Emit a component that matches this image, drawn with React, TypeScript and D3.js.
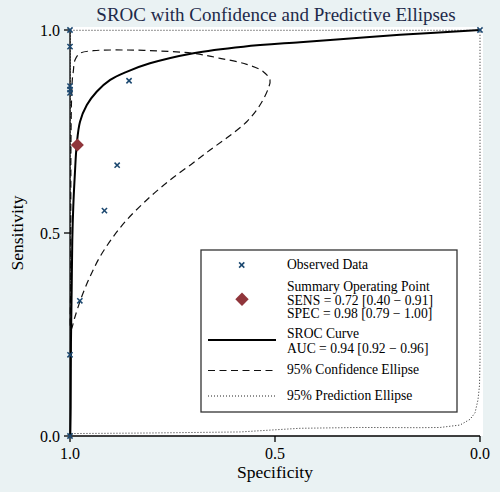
import React from "react";
import * as d3 from "d3";

// ---- data (spec, sens) ----
const obsSpec = [1.0, 1.0, 1.0, 1.0, 1.0, 0.856, 0.885, 0.916, 0.976, 1.0, 1.0, 0.0];
const obsSens = [1.0, 0.959, 0.862, 0.853, 0.845, 0.875, 0.667, 0.555, 0.333, 0.2, 0.0, 1.0];

const summarySpec = 0.982;
const summarySens = 0.717;

const srocSpec = [0.9993, 0.9983, 0.9976, 0.9959, 0.9944, 0.992, 0.988, 0.9837, 0.9756, 0.959, 0.935, 0.902, 0.862, 0.805, 0.699, 0.577, 0.439, 0.317, 0.195, 0.0];
const srocSens = [0.0, 0.072, 0.236, 0.36, 0.483, 0.565, 0.648, 0.716, 0.774, 0.815, 0.848, 0.877, 0.897, 0.918, 0.943, 0.959, 0.97, 0.979, 0.988, 1.0];

const confSpec = [0.9976, 0.998, 0.998, 0.9976, 0.9963, 0.9944, 0.992, 0.9878, 0.9756, 0.9432, 0.8617, 0.7805, 0.6993, 0.6341, 0.569, 0.5285, 0.5122, 0.5163, 0.5366, 0.569, 0.6146, 0.6585, 0.7, 0.7561, 0.8129, 0.8617, 0.8944, 0.9268, 0.9512, 0.9715, 0.9878];
const confSens = [0.2611, 0.3842, 0.5813, 0.7291, 0.8276, 0.8768, 0.8973, 0.9261, 0.9426, 0.949, 0.9507, 0.9483, 0.9426, 0.9303, 0.9155, 0.8973, 0.8768, 0.8564, 0.8153, 0.7741, 0.7365, 0.7044, 0.6724, 0.6305, 0.5813, 0.532, 0.4909, 0.4416, 0.3924, 0.3431, 0.2938];

const predSpec = [0.9988, 0.0, 0.0, 0.0, 0.0012, 0.0049, 0.0122, 0.0244, 0.0488, 0.0976, 0.146, 0.293, 0.439, 0.585, 0.805, 0.9988];
const predSens = [0.9993, 0.9993, 0.6, 0.187, 0.125, 0.089, 0.057, 0.041, 0.027, 0.021, 0.0205, 0.021, 0.019, 0.01, 0.0074, 0.006];

const xTicks = [1.0, 0.5, 0.0];
const yTicks = [0.0, 0.5, 1.0];
const titleText = "SROC with Confidence and Predictive Ellipses";
const xTitle = "Specificity";
const yTitle = "Sensitivity";
const legendObs = ["Observed Data"];
const legendSum = ["Summary Operating Point", "SENS = 0.72 [0.40 \u2212 0.91]", "SPEC = 0.98 [0.79 \u2212 1.00]"];
const legendSroc = ["SROC Curve", "AUC = 0.94 [0.92 \u2212 0.96]"];
const legendConf = ["95% Confidence Ellipse"];
const legendPred = ["95% Prediction Ellipse"];

const W = 500;
const H = 492;
const FONT = "'Liberation Serif', 'Times New Roman', serif";
const NAVY = "#1a476f";
const MAROON = "#90353b";
const BG = "#eaf2f3";

export default function App() {
  const x = d3.scaleLinear().domain([1, 0]).range([70, 480]);
  const y = d3.scaleLinear().domain([0, 1]).range([436, 30]);

  const pts = (s: number[], t: number[]) => s.map((v, i) => [v, t[i]] as [number, number]);

  const lineOpen = d3
    .line<[number, number]>()
    .x((d) => x(d[0]))
    .y((d) => y(d[1]))
    .curve(d3.curveCatmullRom.alpha(0.5));
  const lineClosed = d3
    .line<[number, number]>()
    .x((d) => x(d[0]))
    .y((d) => y(d[1]))
    .curve(d3.curveCatmullRomClosed.alpha(0.5));
  const lineLinClosed = d3
    .line<[number, number]>()
    .x((d) => x(d[0]))
    .y((d) => y(d[1]))
    .curve(d3.curveLinearClosed);

  const srocPath = lineOpen(pts(srocSpec, srocSens)) || "";
  const confPath = lineClosed(pts(confSpec, confSens)) || "";
  const predPath = lineLinClosed(pts(predSpec, predSens)) || "";

  const xm = 2.6;
  const cross = (cx: number, cy: number, key: string | number) => (
    <g key={key} stroke={NAVY} strokeWidth={1.5}>
      <line x1={cx - xm} y1={cy - xm} x2={cx + xm} y2={cy + xm} />
      <line x1={cx - xm} y1={cy + xm} x2={cx + xm} y2={cy - xm} />
    </g>
  );
  const diamond = (cx: number, cy: number, r: number) =>
    `M${cx},${cy - r}L${cx + r},${cy}L${cx},${cy + r}L${cx - r},${cy}Z`;

  const [x0, x1] = x.range();
  const [y0, y1] = y.range();

  // legend layout
  const lgX = 201, lgY = 250, lgW = 256, lgH = 162;
  const tx = 287;
  const fsL = 13.6;

  return (
    <svg width={W} height={H} style={{ display: "block", position: "absolute", left: 0, top: 0 }} fontFamily={FONT}>
      <rect x={0} y={0} width={W} height={H} fill={BG} />
      <rect x={x0} y={27} width={483 - x0} height={y0 - 27} fill="#ffffff" />

      <text x={276} y={21} textAnchor="middle" fontSize={19} fill="#1e2a4a">{titleText}</text>

      {/* prediction ellipse */}
      <path d={predPath} fill="none" stroke="#222" strokeWidth={1} strokeDasharray="1,2" />
      {/* confidence ellipse */}
      <path d={confPath} fill="none" stroke="#111" strokeWidth={1.2} strokeDasharray="7,4.5" />
      {/* SROC curve */}
      <path d={srocPath} fill="none" stroke="#000" strokeWidth={2} />

      {/* axes */}
      <line x1={x0} y1={y0} x2={x1} y2={y0} stroke="#000" strokeWidth={1.3} />
      <line x1={x0} y1={y0} x2={x0} y2={y1} stroke="#000" strokeWidth={1.3} />
      {xTicks.map((t) => (
        <g key={"xt" + t}>
          <line x1={x(t)} y1={y0} x2={x(t)} y2={y0 + 6} stroke="#000" strokeWidth={1.3} />
          <text x={x(t)} y={459} textAnchor="middle" fontSize={16} fill="#000">{t.toFixed(1)}</text>
        </g>
      ))}
      {yTicks.map((t) => (
        <g key={"yt" + t}>
          <line x1={x0 - 6} y1={y(t)} x2={x0} y2={y(t)} stroke="#000" strokeWidth={1.3} />
          <text x={60} y={y(t) + 5.5} textAnchor="end" fontSize={16} fill="#000">{t.toFixed(1)}</text>
        </g>
      ))}
      <text x={275} y={478} textAnchor="middle" fontSize={17.5} fill="#000">{xTitle}</text>
      <text transform={`translate(23,233) rotate(-90)`} textAnchor="middle" fontSize={17.5} fill="#000">{yTitle}</text>

      {/* observed data */}
      {obsSpec.map((s, i) => cross(x(s), y(obsSens[i]), "o" + i))}
      {/* summary point */}
      <path d={diamond(x(summarySpec), y(summarySens), 6.5)} fill={MAROON} />

      {/* legend */}
      <rect x={lgX} y={lgY} width={lgW} height={lgH} fill="#fff" stroke="#333" strokeWidth={1.3} />
      {cross(241.7, 265, "lg")}
      <path d={diamond(242, 299.3, 6.7)} fill={MAROON} />
      <line x1={208} y1={340} x2={276} y2={340} stroke="#000" strokeWidth={2} />
      <line x1={208} y1={370.5} x2={276} y2={370.5} stroke="#111" strokeWidth={1.2} strokeDasharray="7,4.5" />
      <line x1={208} y1={396} x2={276} y2={396} stroke="#222" strokeWidth={1} strokeDasharray="1,2" />
      <g fontSize={fsL} fill="#000">
        {legendObs.map((t, i) => <text key={"lo" + i} x={tx} y={269.3}>{t}</text>)}
        {legendSum.map((t, i) => <text key={"ls" + i} x={tx} y={290.7 + i * 13.8}>{t}</text>)}
        {legendSroc.map((t, i) => <text key={"lr" + i} x={tx} y={337.7 + i * 15}>{t}</text>)}
        {legendConf.map((t, i) => <text key={"lc" + i} x={tx} y={374.3}>{t}</text>)}
        {legendPred.map((t, i) => <text key={"lp" + i} x={tx} y={400}>{t}</text>)}
      </g>
    </svg>
  );
}
